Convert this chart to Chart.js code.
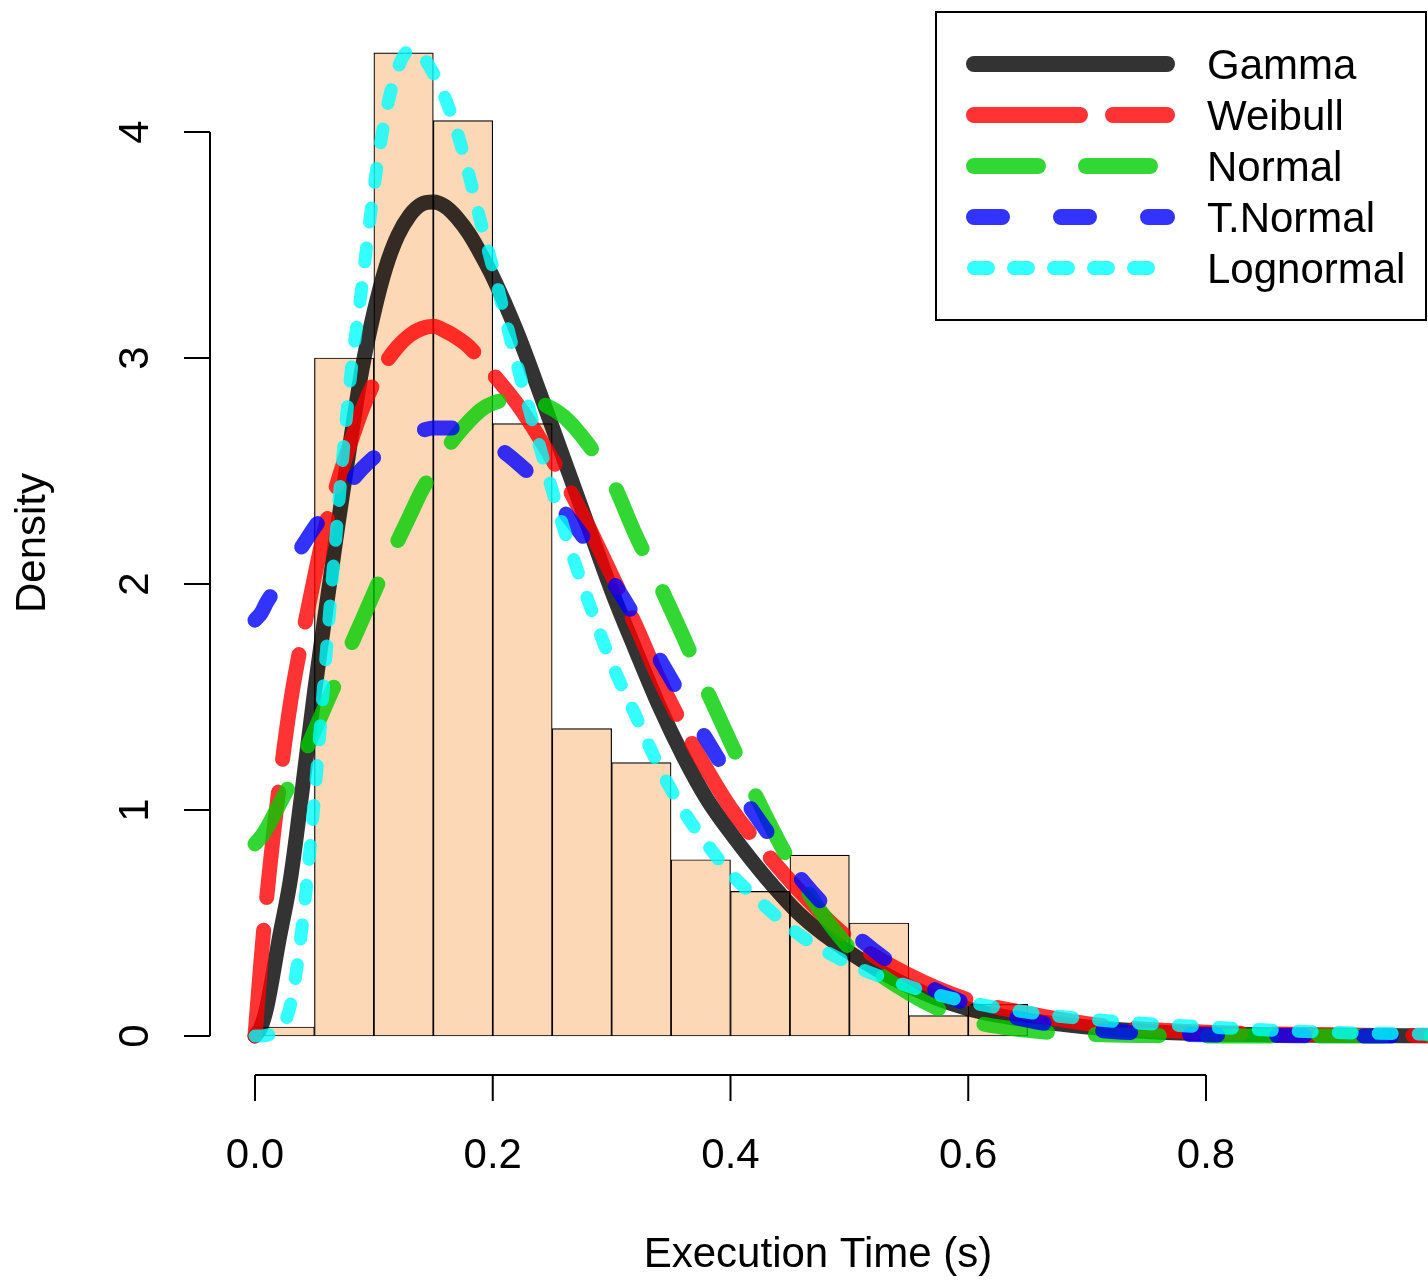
<!DOCTYPE html>
<html>
<head>
<meta charset="utf-8">
<script src="https://cdn.jsdelivr.net/npm/chart.js@4.4.1/dist/chart.umd.min.js"></script>
<style>
html,body{margin:0;padding:0;background:#ffffff;}
canvas{display:block;}
</style>
</head>
<body>
<canvas id="c" width="1428" height="1282"></canvas>
<script>
// ---------------- data ----------------
const binStarts  = [0.00, 0.05, 0.10, 0.15, 0.20, 0.25, 0.30, 0.35, 0.40, 0.45, 0.50, 0.55, 0.60];
const binDensity = [0.04, 3.00, 4.35, 4.05, 2.71, 1.36, 1.21, 0.78, 0.64, 0.80, 0.50, 0.09, 0.14];
const binWidth = 0.05;

const curveX = [0, 0.005, 0.01, 0.02, 0.03, 0.04, 0.05, 0.06, 0.07, 0.08, 0.09, 0.10, 0.11, 0.12, 0.13, 0.14, 0.15,
                0.16, 0.17, 0.18, 0.19, 0.20, 0.22, 0.24, 0.26, 0.28, 0.30, 0.32, 0.34, 0.36, 0.38, 0.40,
                0.43, 0.46, 0.50, 0.55, 0.60, 0.65, 0.70, 0.75, 0.80, 0.90, 1.00];

const gammaY = [0, 0.04, 0.13, 0.42, 0.70, 1.10, 1.52, 1.90, 2.27, 2.62, 2.95, 3.20, 3.40, 3.54, 3.63, 3.68, 3.69,
                3.67, 3.62, 3.55, 3.46, 3.36, 3.12, 2.84, 2.55, 2.26, 1.97, 1.71, 1.46, 1.24, 1.05, 0.90,
                0.70, 0.53, 0.37, 0.22, 0.12, 0.07, 0.04, 0.02, 0.01, 0.003, 0.001];

const weibullY = [0, 0.33, 0.62, 1.09, 1.48, 1.77, 2.03, 2.27, 2.46, 2.62, 2.77, 2.89, 2.98, 3.05, 3.10, 3.13, 3.14,
                  3.12, 3.09, 3.05, 2.99, 2.93, 2.80, 2.64, 2.46, 2.26, 2.04, 1.82, 1.58, 1.37, 1.18, 1.01,
                  0.81, 0.63, 0.43, 0.27, 0.16, 0.10, 0.055, 0.03, 0.017, 0.005, 0.001];

const normalY = [0.85, 0.88, 0.92, 1.02, 1.12, 1.23, 1.35, 1.47, 1.59, 1.72, 1.84, 1.96, 2.08, 2.19, 2.30, 2.41, 2.50,
                 2.59, 2.66, 2.72, 2.77, 2.80, 2.82, 2.80, 2.74, 2.62, 2.46, 2.22, 2.00, 1.77, 1.53, 1.30,
                 0.97, 0.68, 0.39, 0.19, 0.07, 0.025, 0.008, 0.002, 0, 0, 0];

const tNormalY = [1.84, 1.87, 1.92, 2.00, 2.09, 2.17, 2.25, 2.32, 2.39, 2.45, 2.51, 2.56, 2.60, 2.64, 2.67, 2.68, 2.69,
                  2.69, 2.69, 2.67, 2.65, 2.62, 2.54, 2.44, 2.32, 2.18, 2.02, 1.85, 1.67, 1.49, 1.31, 1.14,
                  0.91, 0.69, 0.47, 0.27, 0.14, 0.07, 0.03, 0.012, 0.005, 0.001, 0];

const lognormalY = [0, 0, 0.003, 0.03, 0.14, 0.50, 1.05, 1.70, 2.33, 2.90, 3.32, 3.75, 4.08, 4.28, 4.36, 4.34, 4.26,
                    4.15, 4.00, 3.81, 3.60, 3.40, 2.98, 2.60, 2.24, 1.93, 1.65, 1.42, 1.19, 1.00, 0.85, 0.72,
                    0.57, 0.44, 0.32, 0.22, 0.15, 0.105, 0.075, 0.055, 0.04, 0.017, 0.007];

const seriesLabels = ['Gamma', 'Weibull', 'Normal', 'T.Normal', 'Lognormal'];
const xTicks = [0, 0.2, 0.4, 0.6, 0.8];
const xTickLabels = ['0.0', '0.2', '0.4', '0.6', '0.8'];
const yTicks = [0, 1, 2, 3, 4];
const yTickLabels = ['0', '1', '2', '3', '4'];
const xTitle = 'Execution Time (s)';
const yTitle = 'Density';

// ---------------- styling ----------------
const X_MIN = -0.037855, X_MAX = 0.98675;
const Y_MIN = -0.17257, Y_MAX = 4.40708;
const FONT = '"Liberation Sans", Arial, Helvetica, sans-serif';
const FS = 42;

const lineStyles = [
  { color: 'rgba(0,0,0,0.8)',     dash: [],        width: 15 },
  { color: 'rgba(255,0,0,0.8)',   dash: [106, 33], width: 15 },
  { color: 'rgba(0,205,0,0.8)',   dash: [64, 48],  width: 15 },
  { color: 'rgba(0,0,255,0.8)',   dash: [28, 59],  width: 15 },
  { color: 'rgba(0,255,255,0.8)', dash: [14, 26],  width: 13 }
];
const seriesValues = [gammaY, weibullY, normalY, tNormalY, lognormalY];

const lineDatasets = seriesLabels.map((lab, i) => ({
  type: 'line',
  label: lab,
  data: curveX.map((x, j) => ({ x: x, y: seriesValues[i][j] })),
  borderColor: lineStyles[i].color,
  borderWidth: lineStyles[i].width,
  borderDash: lineStyles[i].dash,
  borderCapStyle: 'round',
  borderJoinStyle: 'round',
  cubicInterpolationMode: 'monotone',
  pointRadius: 0,
  fill: false,
  order: 5 - i
}));

const barDataset = {
  type: 'bar',
  label: 'hist',
  data: binStarts.map((s, i) => ({ x: s + binWidth / 2, y: binDensity[i] })),
  backgroundColor: '#FDD8B6',
  borderColor: '#000000',
  borderWidth: 1.2,
  borderSkipped: false,
  barPercentage: 1,
  categoryPercentage: 1,
  grouped: false,
  order: 10
};

// ---------------- R-like axes & legend ----------------
const rDecor = {
  id: 'rDecor',
  afterDraw(chart) {
    const ctx = chart.ctx;
    const xs = chart.scales.x, ys = chart.scales.y;
    const area = chart.chartArea;
    ctx.save();
    ctx.strokeStyle = '#000';
    ctx.fillStyle = '#000';
    ctx.lineWidth = 2;
    ctx.lineCap = 'butt';
    ctx.font = FS + 'px ' + FONT;

    // y axis
    const ax = area.left;
    const yTop = ys.getPixelForValue(yTicks[yTicks.length - 1]);
    const yBot = ys.getPixelForValue(yTicks[0]);
    ctx.beginPath(); ctx.moveTo(ax, yTop); ctx.lineTo(ax, yBot); ctx.stroke();
    yTicks.forEach((v, i) => {
      const py = ys.getPixelForValue(v);
      ctx.beginPath(); ctx.moveTo(ax - 26, py); ctx.lineTo(ax, py); ctx.stroke();
      ctx.save();
      ctx.translate(148, py);
      ctx.rotate(-Math.PI / 2);
      ctx.textAlign = 'center';
      ctx.textBaseline = 'alphabetic';
      ctx.fillText(yTickLabels[i], 0, 0);
      ctx.restore();
    });

    // x axis
    const ay = area.bottom;
    const xL = xs.getPixelForValue(xTicks[0]);
    const xR = xs.getPixelForValue(xTicks[xTicks.length - 1]);
    ctx.beginPath(); ctx.moveTo(xL, ay); ctx.lineTo(xR, ay); ctx.stroke();
    xTicks.forEach((v, i) => {
      const px = xs.getPixelForValue(v);
      ctx.beginPath(); ctx.moveTo(px, ay); ctx.lineTo(px, ay + 26); ctx.stroke();
      ctx.textAlign = 'center';
      ctx.textBaseline = 'alphabetic';
      ctx.fillText(xTickLabels[i], px, 1168);
    });

    // titles
    ctx.textAlign = 'center';
    ctx.fillText(xTitle, 818, 1267);
    ctx.save();
    ctx.translate(45, 543);
    ctx.rotate(-Math.PI / 2);
    ctx.fillText(yTitle, 0, 0);
    ctx.restore();

    // legend box
    ctx.lineWidth = 2;
    ctx.strokeRect(936, 12, 490, 308);
    const rows = [64, 115, 166, 217, 268];
    chart.data.datasets.filter(d => d.type === 'line').forEach((d, i) => {
      const cy = rows[i];
      ctx.save();
      ctx.strokeStyle = d.borderColor;
      ctx.lineWidth = d.borderWidth + 1;
      ctx.lineCap = 'round';
      ctx.setLineDash(d.borderDash);
      ctx.beginPath();
      ctx.moveTo(974, cy);
      ctx.lineTo(1167, cy);
      ctx.stroke();
      ctx.restore();
      ctx.textAlign = 'left';
      ctx.fillText(d.label, 1207, cy + 15);
    });
    ctx.restore();
  }
};

new Chart(document.getElementById('c'), {
  type: 'line',
  data: { datasets: [barDataset].concat(lineDatasets) },
  options: {
    responsive: false,
    devicePixelRatio: 1,
    animation: false,
    events: [],
    layout: { padding: { left: 210, right: 0, top: 40, bottom: 207 } },
    scales: {
      x: { type: 'linear', min: X_MIN, max: X_MAX, offset: false, display: false },
      y: { type: 'linear', min: Y_MIN, max: Y_MAX, display: false }
    },
    plugins: { legend: { display: false }, tooltip: { enabled: false } }
  },
  plugins: [rDecor]
});
</script>
</body>
</html>
